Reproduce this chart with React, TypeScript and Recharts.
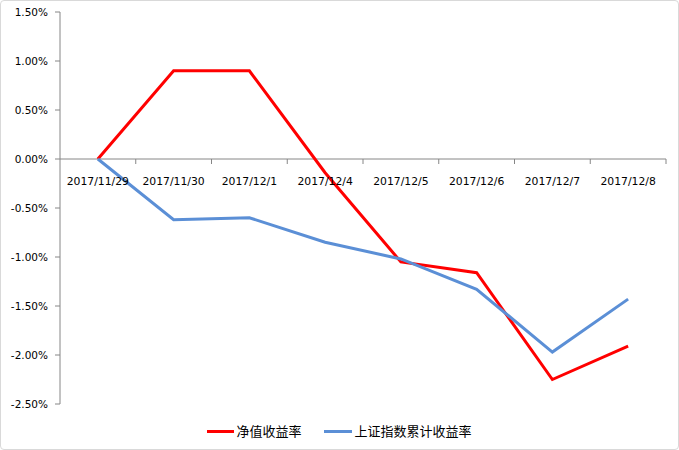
import React from "react";
import { LineChart, Line, XAxis, YAxis, ReferenceLine } from "recharts";

const dates = [
  "2017/11/29",
  "2017/11/30",
  "2017/12/1",
  "2017/12/4",
  "2017/12/5",
  "2017/12/6",
  "2017/12/7",
  "2017/12/8",
];
const navReturn = [0, 0.9, 0.9, -0.14, -1.05, -1.16, -2.25, -1.91];
const indexReturn = [0, -0.62, -0.6, -0.85, -1.02, -1.33, -1.97, -1.43];
const yTicks = [1.5, 1.0, 0.5, 0, -0.5, -1.0, -1.5, -2.0, -2.5];

const W = 679;
const H = 450;
const M = { top: 12, right: 13, bottom: 0, left: 0 };
const X_AXIS_H = 46;
const Y_AXIS_W = 60;
const Y_MIN = -2.5;
const Y_MAX = 1.5;
const PLOT_H = H - M.top - X_AXIS_H;
const ZERO_Y = M.top + (Y_MAX / (Y_MAX - Y_MIN)) * PLOT_H;
const BAND = (W - M.right - Y_AXIS_W) / dates.length;

const AXIS = "#868686";
const RED = "#ff0000";
const BLUE = "#5b8fd6";

const data = dates.map((d, i) => ({ date: d, nav: navReturn[i], idx: indexReturn[i] }));

// category labels sit under the zero line, like the Excel original
const XTick = (props: any) => {
  const { x, payload } = props;
  return (
    <g>
      <line x1={x + BAND / 2} x2={x + BAND / 2} y1={ZERO_Y} y2={ZERO_Y + 5} stroke={AXIS} />
      <text
        x={x}
        y={ZERO_Y + 26}
        textAnchor="middle"
        fontFamily="DejaVu Sans"
        fontSize={10.8}
        fill="#000"
      >
        {payload.value}
      </text>
    </g>
  );
};

const LegendBox = () => (
  <div
    style={{
      position: "absolute",
      left: 0,
      top: 421,
      width: W,
      display: "flex",
      justifyContent: "center",
      alignItems: "center",
      fontFamily: "'Noto Sans CJK SC'",
      fontSize: 13,
      lineHeight: "20px",
      color: "#000",
    }}
  >
    <span style={{ width: 27, height: 3, background: RED, marginRight: 2 }} />
    <span style={{ marginRight: 22 }}>净值收益率</span>
    <span style={{ width: 28, height: 3, background: BLUE, marginRight: 3 }} />
    <span>上证指数累计收益率</span>
  </div>
);

export default function App() {
  return (
    <div
      style={{
        position: "absolute",
        left: 0,
        top: 0,
        width: W,
        height: H,
        boxSizing: "border-box",
        border: "1px solid #d9d9d9",
        borderRadius: 4,
        background: "#fff",
      }}
    >
      <div style={{ position: "absolute", left: -1, top: -1 }}>
        <LineChart width={W} height={H} data={data} margin={M}>
          <XAxis
            dataKey="date"
            scale="band"
            axisLine={false}
            tickLine={false}
            tick={<XTick />}
            interval={0}
            height={X_AXIS_H}
          />
          <YAxis
            domain={[Y_MIN, Y_MAX]}
            ticks={yTicks}
            width={Y_AXIS_W}
            tickFormatter={(v: number) => `${v.toFixed(2)}%`}
            axisLine={{ stroke: AXIS }}
            tickLine={{ stroke: AXIS }}
            tickSize={5}
            tickMargin={7}
            tick={{ fill: "#000", fontFamily: "DejaVu Sans", fontSize: 10.5 }}
            allowDataOverflow
          />
          <ReferenceLine y={0} stroke={AXIS} />
          <Line
            dataKey="nav"
            name="净值收益率"
            stroke={RED}
            strokeWidth={3}
            dot={false}
            isAnimationActive={false}
            strokeLinejoin="miter"
          />
          <Line
            dataKey="idx"
            name="上证指数累计收益率"
            stroke={BLUE}
            strokeWidth={3}
            dot={false}
            isAnimationActive={false}
            strokeLinejoin="miter"
          />
        </LineChart>
        <LegendBox />
      </div>
    </div>
  );
}
